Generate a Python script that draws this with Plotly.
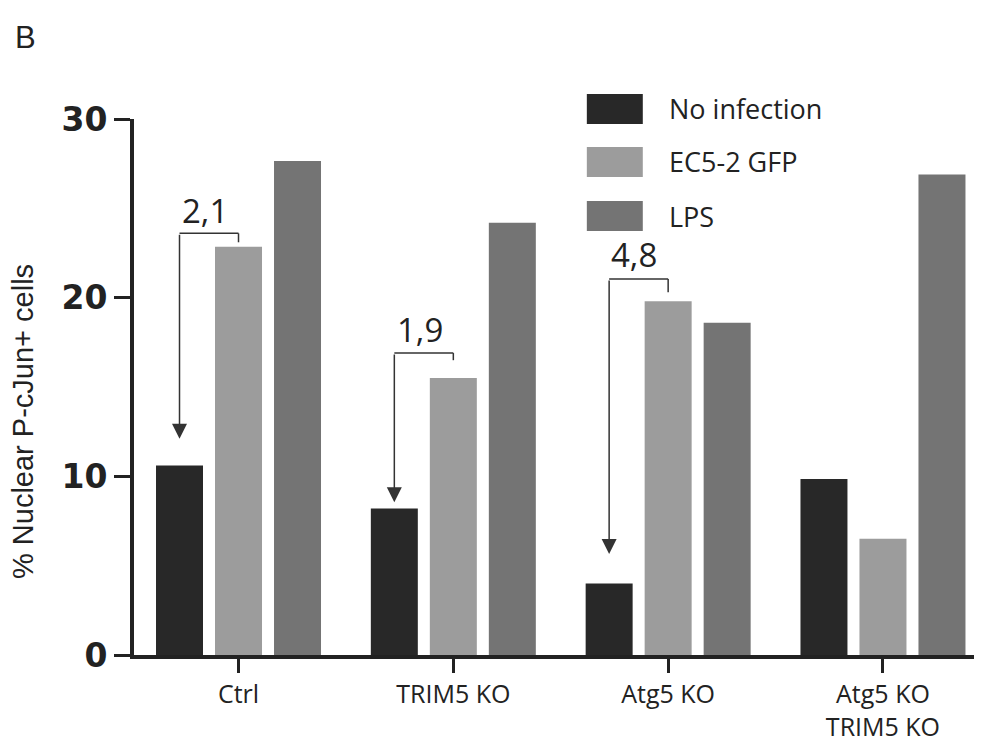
import plotly.graph_objects as go

categories = ["Ctrl", "TRIM5 KO", "Atg5 KO", "Atg5 KO<br>TRIM5 KO"]
series_names = ["No infection", "EC5-2 GFP", "LPS"]
no_infection = [10.6, 8.2, 4.0, 9.85]
ec5_gfp = [22.85, 15.5, 19.8, 6.5]
lps = [27.65, 24.2, 18.6, 26.9]
colors = ["#282828", "#9c9c9c", "#747474"]

# fold-change annotations: category index, label, bracket y, right drop y, arrow tip y, text y
fold_cat = [0, 1, 2]
fold_text = ["2,1", "1,9", "4,8"]
fold_bracket_y = [23.6, 16.9, 21.05]
fold_drop_y = [23.1, 16.5, 20.3]
fold_tip_y = [12.1, 8.55, 5.65]
fold_text_y = [24.9, 18.2, 22.4]

y_ticks = [0, 10, 20, 30]

BARGAP = 0.176
BARGROUPGAP = 0.2035
slot = (1 - BARGAP) / 3

xpos = list(range(len(categories)))
fig = go.Figure()
for name, vals, col in zip(series_names, [no_infection, ec5_gfp, lps], colors):
    fig.add_trace(go.Bar(x=xpos, y=vals, name=name, marker=dict(color=col, line=dict(width=0)),
                         showlegend=False))

shapes = []
annotations = []
line_col = "#333333"
for ci, txt, by, dy, ty, tty in zip(fold_cat, fold_text, fold_bracket_y, fold_drop_y, fold_tip_y, fold_text_y):
    xb = ci - slot
    xl = ci
    shapes.append(dict(type="line", xref="x", yref="y", x0=xb, x1=xl, y0=by, y1=by,
                       line=dict(color=line_col, width=1.5)))
    shapes.append(dict(type="line", xref="x", yref="y", x0=xl, x1=xl, y0=by, y1=dy,
                       line=dict(color=line_col, width=1.5)))
    annotations.append(dict(x=xb, y=ty, ax=xb, ay=by, xref="x", yref="y", axref="x", ayref="y",
                            showarrow=True, arrowhead=2, arrowsize=2.0, arrowwidth=1.5,
                            arrowcolor=line_col, text=""))
    annotations.append(dict(x=ci - slot / 2 - 0.02, y=tty, xref="x", yref="y", text=txt,
                            showarrow=False, font=dict(family="Open Sans", size=33, color="#222222")))

# manual legend (large swatches)
leg_y = [1.0187, 0.9198, 0.819]
for name, col, ly in zip(series_names, colors, leg_y):
    shapes.append(dict(type="rect", xref="paper", yref="paper",
                       x0=0.534, x1=0.600,
                       y0=ly - 0.028, y1=ly + 0.028, fillcolor=col, line=dict(width=0)))
    annotations.append(dict(xref="paper", yref="paper", x=0.6285, y=ly, text=name,
                            xanchor="left", yanchor="middle", showarrow=False,
                            font=dict(family="Open Sans", size=27, color="#222222")))

annotations.append(dict(xref="paper", yref="paper", x=-0.1427, y=1.1526, text="B",
                        xanchor="left", yanchor="middle", showarrow=False,
                        font=dict(family="Liberation Sans", size=31, color="#222222")))

# y-axis title as annotation (offset downward like the reference)
annotations.append(dict(xref="paper", yref="paper", x=(15 - 126) / 848, y=(647 - 414) / 536,
                        text="% Nuclear P-cJun+ cells", textangle=-90, showarrow=False,
                        xanchor="center", yanchor="middle",
                        font=dict(family="Liberation Sans", size=29, color="#222222")))

fig.update_layout(
    width=974, height=738,
    margin=dict(l=126, r=0, t=111, b=91),
    paper_bgcolor="white", plot_bgcolor="white",
    barmode="group", bargap=BARGAP, bargroupgap=BARGROUPGAP,
    shapes=shapes, annotations=annotations,
    xaxis=dict(range=[-0.4865, 3.461], tickmode="array", tickvals=xpos, ticktext=categories,
               showline=True, linecolor="#222222", linewidth=4, ticks="outside", ticklen=14,
               tickwidth=3, tickcolor="#222222", showgrid=False, zeroline=False,
               ticklabelstandoff=0, automargin=False,
               tickfont=dict(family="Open Sans", size=25, color="#222222")),
    yaxis=dict(range=[0, 30], tickmode="array", tickvals=y_ticks, showline=True,
               linecolor="#222222", linewidth=4, ticks="outside", ticklen=16, tickwidth=3,
               tickcolor="#222222", showgrid=False, zeroline=False, automargin=False,
               tickfont=dict(family="DejaVu Sans", size=33, color="#222222", weight="bold")),
)

fig.write_html("out.html")
